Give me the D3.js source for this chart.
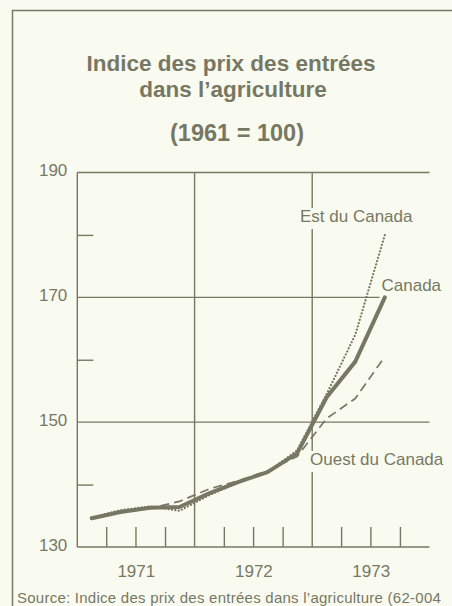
<!DOCTYPE html>
<html>
<head>
<meta charset="utf-8">
<script src="https://cdnjs.cloudflare.com/ajax/libs/d3/7.8.5/d3.min.js"></script>
<style>
    body { margin: 0; background: #fafbf0; }
    svg { display: block; font-family: "Liberation Sans", Arial, sans-serif; }
</style>
</head>
<body>
<div id="chart-area"></div>
<script>

// Quarterly index, plotted at mid-quarter (1971 Q1 - 1973 Q3)
var quarters = ["1971-02-15", "1971-05-15", "1971-08-15", "1971-11-15",
    "1972-02-15", "1972-05-15", "1972-08-15", "1972-11-15",
    "1973-02-15", "1973-05-15", "1973-08-15"];

var canada      = [134.6, 135.6, 136.3, 136.4, 138.6, 140.4, 142.0, 145.0, 154.0, 159.7, 170.0];
var estCanada   = [134.7, 135.9, 136.5, 135.8, 138.3, 140.3, 142.0, 145.5, 154.5, 164.0, 180.0];
var ouestCanada = [134.5, 135.5, 136.2, 137.3, 139.3, 140.6, 142.2, 144.5, 150.6, 153.8, 160.5];

var seriesNames = ["Canada", "Est du Canada", "Ouest du Canada"];

// Axis values
var yMajorTicks = [130, 150, 170, 190];
var yMinorTicks = [140, 160, 180];
var yearStarts = ["1971-01-01", "1972-01-01", "1973-01-01", "1974-01-01"];
var yearLabels = ["1971", "1972", "1973"];
var quarterTicks = ["1971-04-01", "1971-07-01", "1971-10-01",
    "1972-04-01", "1972-07-01", "1972-10-01",
    "1973-04-01", "1973-07-01", "1973-10-01"];

var ink = "#767864";
var paper = "#fafbf0";


/*
 * PriceIndexChart - Object constructor function
 * @param _parentElement 	-- the HTML element in which to draw the visualization
 */

PriceIndexChart = function(_parentElement){
    this.parentElement = _parentElement;
    this.initVis();
};


PriceIndexChart.prototype.initVis = function(){
    var vis = this;
    var parseDate = d3.timeParse("%Y-%m-%d");

    vis.svgWidth = 452;
    vis.svgHeight = 606;
    vis.margin = { top: 172.5, right: 22.5, bottom: 59, left: 77.3 };
    vis.width = vis.svgWidth - vis.margin.left - vis.margin.right;
    vis.height = vis.svgHeight - vis.margin.top - vis.margin.bottom;

    vis.root = d3.select("#" + vis.parentElement).append("svg")
        .attr("width", vis.svgWidth)
        .attr("height", vis.svgHeight);

    vis.root.append("rect")
        .attr("width", vis.svgWidth)
        .attr("height", vis.svgHeight)
        .attr("fill", paper);

    // page frame (left and top rule)
    vis.root.append("path")
        .attr("d", "M12.5," + vis.svgHeight + "V10.5H" + vis.svgWidth)
        .attr("fill", "none")
        .attr("stroke", ink)
        .attr("stroke-width", 1.5);

    // Title
    var titleLines = [
        { text: "Indice des prix des entrées", x: 231, y: 71, size: 22.5 },
        { text: "dans l\u2019agriculture", x: 233, y: 97, size: 22.5 },
        { text: "(1961 = 100)", x: 237, y: 141, size: 23.5 }
    ];
    vis.root.selectAll(".title")
        .data(titleLines)
        .enter().append("text")
        .attr("class", "title")
        .attr("x", function(d){ return d.x; })
        .attr("y", function(d){ return d.y; })
        .attr("text-anchor", "middle")
        .attr("font-size", function(d){ return d.size + "px"; })
        .attr("font-weight", "bold")
        .attr("fill", ink)
        .text(function(d){ return d.text; });

    // Source line (as far as the original shows it)
    vis.root.append("text")
        .attr("x", 17)
        .attr("y", 603)
        .attr("font-size", "15px")
        .attr("letter-spacing", "0.25px")
        .attr("fill", ink)
        .text("Source: Indice des prix des entrées dans l\u2019agriculture (62-004");

    vis.svg = vis.root.append("g")
        .attr("transform", "translate(" + vis.margin.left + "," + vis.margin.top + ")");

    // Scales and axes
    vis.x = d3.scaleTime()
        .range([0, vis.width])
        .domain([parseDate(yearStarts[0]), parseDate(yearStarts[yearStarts.length - 1])]);

    vis.y = d3.scaleLinear()
        .range([vis.height, 0])
        .domain([130, 190]);

    vis.dates = quarters.map(parseDate);
    vis.series = [canada, estCanada, ouestCanada].map(function(values, i){
        return {
            name: seriesNames[i],
            values: values.map(function(v, j){ return { date: vis.dates[j], value: v }; })
        };
    });
    vis.yearDates = yearStarts.map(parseDate);
    vis.quarterDates = quarterTicks.map(parseDate);

    vis.line = d3.line()
        .curve(d3.curveLinear)
        .x(function(d){ return vis.x(d.date); })
        .y(function(d){ return vis.y(d.value); });

    vis.updateVis();
};


PriceIndexChart.prototype.updateVis = function(){
    var vis = this;

    // horizontal grid at 150, 170, 190 plus the base line at 130
    vis.svg.selectAll(".hgrid")
        .data(yMajorTicks)
        .enter().append("line")
        .attr("class", "hgrid")
        .attr("x1", 0)
        .attr("x2", vis.width)
        .attr("y1", function(d){ return vis.y(d); })
        .attr("y2", function(d){ return vis.y(d); })
        .attr("stroke", ink)
        .attr("stroke-width", 1.4);

    // year separators (left axis included)
    vis.svg.selectAll(".vgrid")
        .data(vis.yearDates.slice(0, 3))
        .enter().append("line")
        .attr("class", "vgrid")
        .attr("x1", function(d){ return vis.x(d); })
        .attr("x2", function(d){ return vis.x(d); })
        .attr("y1", vis.y(190))
        .attr("y2", vis.y(130))
        .attr("stroke", ink)
        .attr("stroke-width", 1.4);

    // y labels
    vis.yAxis = d3.axisLeft(vis.y)
        .tickValues(yMajorTicks)
        .tickSize(0)
        .tickPadding(10);
    var yg = vis.svg.append("g").attr("class", "y-axis axis").call(vis.yAxis);
    yg.select(".domain").remove();
    yg.selectAll("text")
        .attr("font-size", "17px")
        .attr("font-family", "Liberation Sans, Arial, sans-serif")
        .attr("fill", ink)
        .attr("dy", "0.2em");

    // short ticks at 140, 160, 180
    vis.yMinor = d3.axisRight(vis.y)
        .tickValues(yMinorTicks)
        .tickSize(16)
        .tickFormat("");
    var ym = vis.svg.append("g").attr("class", "y-minor").call(vis.yMinor);
    ym.select(".domain").remove();
    ym.selectAll("line").attr("stroke", ink).attr("stroke-width", 1.4);

    // quarter ticks standing on the base line
    vis.xTicks = d3.axisTop(vis.x)
        .tickValues(vis.quarterDates)
        .tickSize(20)
        .tickFormat("");
    var xt = vis.svg.append("g")
        .attr("transform", "translate(0," + vis.height + ")")
        .call(vis.xTicks);
    xt.select(".domain").remove();
    xt.selectAll("line").attr("stroke", ink).attr("stroke-width", 1.4);

    // year labels centred in each year
    var parseDate = d3.timeParse("%Y-%m-%d");
    vis.xAxis = d3.axisBottom(vis.x)
        .tickValues(yearLabels.map(function(y){ return parseDate(y + "-07-02"); }))
        .tickSize(0)
        .tickPadding(18)
        .tickFormat(d3.timeFormat("%Y"));
    var xg = vis.svg.append("g")
        .attr("class", "x-axis axis")
        .attr("transform", "translate(0," + vis.height + ")")
        .call(vis.xAxis);
    xg.select(".domain").remove();
    xg.selectAll("text")
        .attr("font-size", "17px")
        .attr("font-family", "Liberation Sans, Arial, sans-serif")
        .attr("fill", ink);

    // series labels with a paper-coloured backing that breaks the grid
    var labelPos = [
        { text: seriesNames[0], x: 381.5, y: 291 },
        { text: seriesNames[1], x: 300, y: 222 },
        { text: seriesNames[2], x: 310, y: 465 }
    ];
    var labels = vis.root.selectAll(".series-label")
        .data(labelPos)
        .enter().append("g")
        .attr("class", "series-label");
    labels.append("text")
        .attr("x", function(d){ return d.x; })
        .attr("y", function(d){ return d.y; })
        .attr("font-size", "17px")
        .attr("fill", ink)
        .text(function(d){ return d.text; });
    labels.each(function(){
        var g = d3.select(this);
        var bb = g.select("text").node().getBBox();
        g.insert("rect", "text")
            .attr("x", bb.x - 2)
            .attr("y", bb.y + 1)
            .attr("width", bb.width + 4)
            .attr("height", bb.height + 2)
            .attr("fill", paper);
    });

    // Draw the lines
    var styles = [
        { width: 4, dash: null, cap: "round" },
        { width: 2.2, dash: "0.1 3.3", cap: "round" },
        { width: 1.7, dash: "9 5", cap: "butt" }
    ];
    vis.root.append("g")
        .attr("transform", "translate(" + vis.margin.left + "," + vis.margin.top + ")")
        .selectAll(".line")
        .data(vis.series)
        .enter().append("path")
        .attr("class", "line")
        .attr("fill", "none")
        .attr("stroke", ink)
        .attr("stroke-linejoin", "round")
        .attr("stroke-width", function(d, i){ return styles[i].width; })
        .attr("stroke-dasharray", function(d, i){ return styles[i].dash; })
        .attr("stroke-linecap", function(d, i){ return styles[i].cap; })
        .attr("d", function(d){ return vis.line(d.values); });
};


new PriceIndexChart("chart-area");

</script>
</body>
</html>
